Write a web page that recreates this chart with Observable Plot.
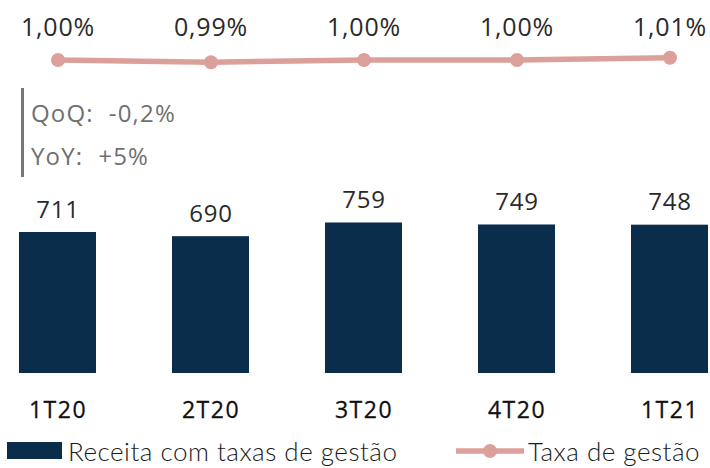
<!DOCTYPE html>
<html>
<head>
<meta charset="utf-8">
<script src="https://cdn.jsdelivr.net/npm/d3@7"></script>
<script src="https://cdn.jsdelivr.net/npm/@observablehq/plot@0.6"></script>
<style>
  html, body { margin: 0; padding: 0; background: #fff; }
  #wrap { position: relative; width: 710px; height: 468px; overflow: hidden; font-family: "Open Sans", sans-serif; }
  #wrap svg { position: absolute; left: 0; top: 0; }
  #wrap svg g[aria-label="x-axis tick label"] text { stroke: #111; stroke-width: 0.3px; letter-spacing: 1.5px; }
  #wrap svg g[aria-label="text"] text { letter-spacing: 0.8px; }
  .box { position: absolute; left: 21px; top: 88px; width: 200px; height: 89px; border-left: 3px solid #777; color: #707070; font-size: 24px; letter-spacing: 1.2px; line-height: 1; font-family: "Open Sans", sans-serif; }
  .box div { position: absolute; left: 7px; white-space: pre; }
  .legend { position: absolute; left: 0; top: 436px; width: 720px; height: 29px; font-family: Lato, sans-serif; font-weight: 300; font-size: 26px; letter-spacing: 0.5px; color: #1a1a1a; }
  .legend .item { position: absolute; top: 0; height: 29px; display: flex; align-items: center; white-space: nowrap; }
  .sw { width: 55px; height: 17px; background: #0a2d4c; margin-right: 6px; }
</style>
</head>
<body>
<div id="wrap"></div>
<script>
const quarters = ["1T20", "2T20", "3T20", "4T20", "1T21"];
const receita = [711, 690, 759, 749, 748];
const taxa = [1.00, 0.99, 1.00, 1.00, 1.01];
const qoq = "-0,2%";
const yoy = "+5%";
const seriesNames = ["Receita com taxas de gestão", "Taxa de gestão"];

const navy = "#0a2d4c";
const pink = "#dca09b";
const W = 710, H = 468;

const rows = quarters.map((q, i) => ({q, receita: receita[i], taxa: taxa[i]}));
const fmtPct = v => v.toFixed(2).replace(".", ",") + "%";

const xScale = {type: "band", domain: quarters, range: [0, 726], paddingInner: 0.5, paddingOuter: 0.12, label: null};

// Bars + x axis
const bars = Plot.plot({
  width: W, height: H,
  marginTop: 0, marginLeft: 0, marginRight: 0, marginBottom: 73,
  x: xScale,
  y: {domain: [0, 1000], range: [373, 174.7], axis: null},
  style: {fontFamily: "Open Sans, sans-serif", background: "transparent", overflow: "visible"},
  marks: [
    Plot.barY(rows, {x: "q", y: "receita", fill: navy}),
    Plot.text(rows, {x: "q", y: "receita", text: d => String(d.receita), lineAnchor: "bottom", dy: -15, fontSize: 24, fill: "#2a2a2a"}),
    Plot.axisX({tickSize: 0, tickPadding: 6, fontSize: 23, fontWeight: 400, fontFamily: "Open Sans, sans-serif", color: "#111", label: null})
  ]
});

// Line of fee rate
const line = Plot.plot({
  width: W, height: 90,
  marginTop: 35, marginLeft: 0, marginRight: 0, marginBottom: 0,
  x: {...xScale, axis: null},
  y: {domain: [0.99, 1.01], range: [61.7, 57.3], axis: null},
  style: {fontFamily: "Open Sans, sans-serif", background: "transparent", overflow: "visible"},
  marks: [
    Plot.line(rows, {x: "q", y: "taxa", stroke: pink, strokeWidth: 5.5}),
    Plot.dot(rows, {x: "q", y: "taxa", r: 7, fill: pink}),
    Plot.text(rows, {x: "q", frameAnchor: "top", lineAnchor: "bottom", text: d => fmtPct(d.taxa), fontSize: 25, fill: "#2a2a2a"})
  ]
});

const wrap = document.getElementById("wrap");
wrap.appendChild(bars);
wrap.appendChild(line);

const box = document.createElement("div");
box.className = "box";
box.innerHTML = `<div style="top:13px">QoQ:  ${qoq}</div><div style="top:56px">YoY:  ${yoy}</div>`;
wrap.appendChild(box);

const legend = document.createElement("div");
legend.className = "legend";
legend.innerHTML = `
  <div class="item" style="left:7px"><div class="sw"></div><span>${seriesNames[0]}</span></div>
  <div class="item" style="left:456px"><svg width="68" height="20" style="position:static;margin-right:4px"><line x1="0" x2="68" y1="10" y2="10" stroke="${pink}" stroke-width="5.5"/><circle cx="34" cy="10" r="7" fill="${pink}"/></svg><span>${seriesNames[1]}</span></div>`;
wrap.appendChild(legend);
</script>
</body>
</html>
